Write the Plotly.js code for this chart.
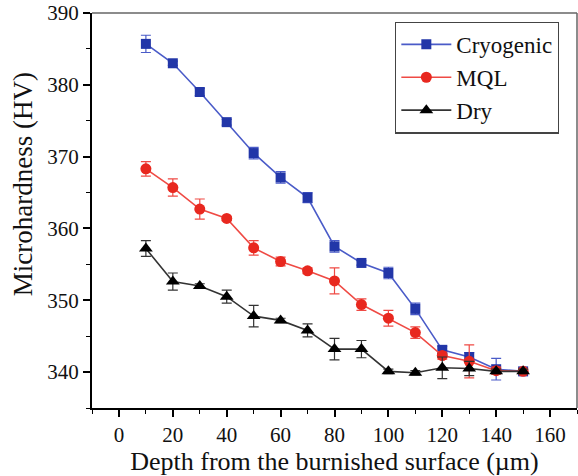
<!DOCTYPE html>
<html>
<head>
<meta charset="utf-8">
<script src="https://cdn.plot.ly/plotly-3.0.1.min.js"></script>
<style>
  html, body { margin: 0; padding: 0; background: #fff; }
  #chart { width: 578px; height: 476px; }
  /* keep tick labels and legend entries in the same serif face as the titles */
  #chart text { font-family: "Liberation Serif", "Times New Roman", serif !important; }
</style>
</head>
<body>
<div id="chart"></div>
<script>
// Depth below the burnished surface (µm)
const depth = [10, 20, 30, 40, 50, 60, 70, 80, 90, 100, 110, 120, 130, 140, 150];

// Microhardness (HV) for each cooling condition
const cryogenic = [385.7, 383.0, 379.0, 374.8, 370.5, 367.1, 364.3, 357.5, 355.2, 353.8, 348.8, 343.1, 342.1, 340.4, 340.1];
const mql       = [368.3, 365.7, 362.7, 361.4, 357.3, 355.4, 354.1, 352.7, 349.4, 347.5, 345.5, 342.3, 341.5, 340.2, 340.1];
const dry       = [357.2, 352.6, 352.0, 350.5, 347.8, 347.2, 345.8, 343.2, 343.2, 340.1, 339.9, 340.6, 340.5, 340.1, 340.1];

// Standard deviations
const cryogenicErr = [1.2, 0.3, 0.5, 0.4, 0.8, 0.8, 0.7, 0.8, 0.3, 0.8, 0.8, 0.5, 0.6, 1.5, 0.3];
const mqlErr       = [1.0, 1.2, 1.4, 0.3, 1.0, 0.6, 0.4, 1.8, 0.8, 1.1, 0.8, 0.5, 2.3, 0.5, 0.3];
const dryErr       = [1.1, 1.2, 0.3, 0.9, 1.5, 0.3, 0.9, 1.5, 1.2, 0.3, 0.3, 1.5, 1.0, 0.3, 0.3];

const seriesNames = ['Cryogenic', 'MQL', 'Dry'];

const FONT = '"Liberation Serif", "Times New Roman", serif';

function series(name, y, err, lineColor, markerColor, symbol, size) {
  return {
    type: 'scatter',
    mode: 'lines+markers',
    name: name,
    x: depth,
    y: y,
    line: { color: lineColor, width: 1.6 },
    marker: { color: markerColor, symbol: symbol, size: size },
    error_y: { type: 'data', array: err, visible: true, color: lineColor, thickness: 1.2, width: 5 }
  };
}

const traces = [
  series(seriesNames[0], cryogenic, cryogenicErr, '#4a5bc8', '#2236a8', 'square', 10),
  series(seriesNames[1], mql, mqlErr, '#ef4a44', '#e8281f', 'circle', 11),
  series(seriesNames[2], dry, dryErr, '#333333', '#000000', 'triangle-up', 12)
];

const layout = {
  width: 578,
  height: 476,
  margin: { l: 92, r: 1, t: 13, b: 68 },
  paper_bgcolor: '#ffffff',
  plot_bgcolor: '#ffffff',
  font: { family: FONT, color: '#111111', size: 20 },
  showlegend: true,
  legend: {
    x: 0.625, y: 0.978, xanchor: 'left', yanchor: 'top',
    bordercolor: '#444444', borderwidth: 1.2,
    bgcolor: 'rgba(255,255,255,0)',
    font: { family: FONT, size: 23, color: '#111111' },
    itemwidth: 50,
    tracegroupgap: 0
  },
  xaxis: {
    range: [-10, 170],
    tick0: 0, dtick: 20,
    ticks: 'outside', ticklen: 7, tickwidth: 1.6, tickcolor: '#000',
    minor: { dtick: 10, ticks: 'outside', ticklen: 4, tickwidth: 1.4, tickcolor: '#000' },
    showline: true, linecolor: '#000', linewidth: 2,
    showgrid: false, zeroline: false,
    tickfont: { family: FONT, size: 21, color: '#111' },
    title: { text: 'Depth from the burnished surface (µm)', font: { family: FONT, size: 26, color: '#111' }, standoff: 0 }
  },
  yaxis: {
    range: [335, 390],
    tick0: 340, dtick: 10,
    ticks: 'outside', ticklen: 7, tickwidth: 1.6, tickcolor: '#000',
    minor: { dtick: 5, ticks: 'outside', ticklen: 4, tickwidth: 1.4, tickcolor: '#000' },
    showline: true, linecolor: '#000', linewidth: 2,
    showgrid: false, zeroline: false,
    tickfont: { family: FONT, size: 21, color: '#111' }
  },
  shapes: [
    { type: 'line', xref: 'paper', yref: 'paper', x0: 0, x1: 1, y0: 1, y1: 1, line: { color: '#666', width: 1.5 } },
    { type: 'line', xref: 'paper', yref: 'paper', x0: 1, x1: 1, y0: 0, y1: 1, line: { color: '#666', width: 1.5 } }
  ],
  annotations: [
    {
      text: 'Microhardness (HV)',
      xref: 'paper', yref: 'paper',
      x: -0.142, y: 0.567,
      xanchor: 'center', yanchor: 'middle',
      textangle: -90, showarrow: false,
      font: { family: FONT, size: 27, color: '#111' }
    }
  ]
};

Plotly.newPlot('chart', traces, layout, { displayModeBar: false });
</script>
</body>
</html>
